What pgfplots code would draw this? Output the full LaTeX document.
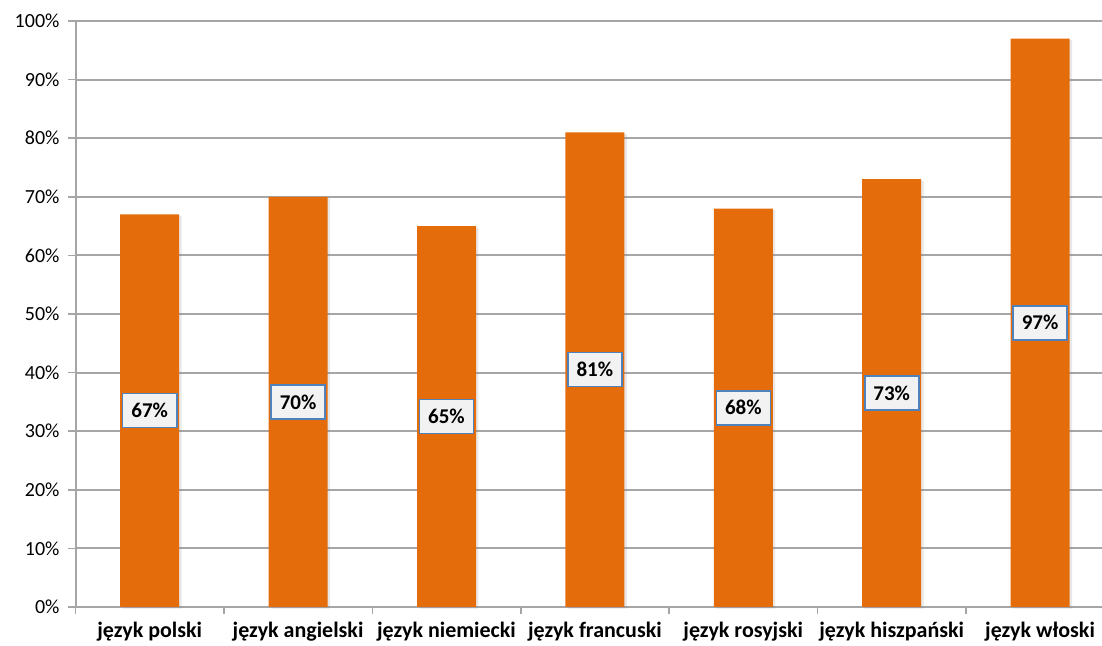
\documentclass[border=0pt]{standalone}
\usepackage{fontspec}
\setmainfont{Carlito}
\usepackage{pgfplots}
\usepackage{pgfplotstable}
\usetikzlibrary{shadows}
\pgfplotsset{compat=1.18}
\definecolor{barorange}{HTML}{E46C0A}
\definecolor{gridgray}{HTML}{A6A6A6}
\definecolor{boxblue}{HTML}{4F81BD}
\definecolor{boxfill}{HTML}{F2F2F2}
\pgfplotstableread{
x v
0 67
1 70
2 65
3 81
4 68
5 73
6 97
}\datatable
\begin{document}
\begin{tikzpicture}
\begin{axis}[
 scale only axis, width=519.4pt, height=293pt,
 xmin=-0.5, xmax=6.5, ymin=0, ymax=100,
 axis x line*=bottom, axis y line*=left,
 axis line style={gridgray, line width=1pt, -},
 ytick={0,10,...,100},
 yticklabel={\pgfmathprintnumber{\tick}\%},
 ymajorgrids, grid style={gridgray, line width=1pt},
 xtick={-0.5,0.5,...,6.5}, x tick label as interval,
 xticklabels={język polski, język angielski, język niemiecki, język francuski, język rosyjski, język hiszpański, język włoski},
 xticklabel style={font=\fontsize{11}{13}\selectfont\bfseries, yshift=-0.5pt},
 yticklabel style={xshift=-1pt},
 tick style={gridgray, line width=0.8pt},
 major tick length=3.5pt,
 tick align=outside,
 /pgf/number format/assume math mode=true,
 clip=false,
]
\addplot[ybar, bar width=29.5pt, fill=barorange, draw=none,
  drop shadow={shadow xshift=1.2pt, shadow yshift=-0.8pt, opacity=0.18}] table[x=x, y=v] {\datatable};
\addplot[draw=none, mark=none, point meta=explicit,
  nodes near coords={\pgfmathprintnumber{\pgfplotspointmeta}\%},
  nodes near coords style={anchor=center, draw=boxblue, fill=boxfill, line width=0.8pt,
    font=\fontsize{10.5}{12}\selectfont\bfseries, text=black, inner xsep=4pt, minimum height=17pt, minimum width=27pt}]
  table[x=x, y expr=\thisrow{v}/2, meta=v] {\datatable};
\end{axis}
\path (current axis.south west) ++(-37.75pt,-19.5pt) coordinate (bbA);
\path (current axis.north west) ++(513.25pt,10.5pt) coordinate (bbB);
\pgfresetboundingbox
\useasboundingbox (bbA) rectangle (bbB);
\end{tikzpicture}
\end{document}
